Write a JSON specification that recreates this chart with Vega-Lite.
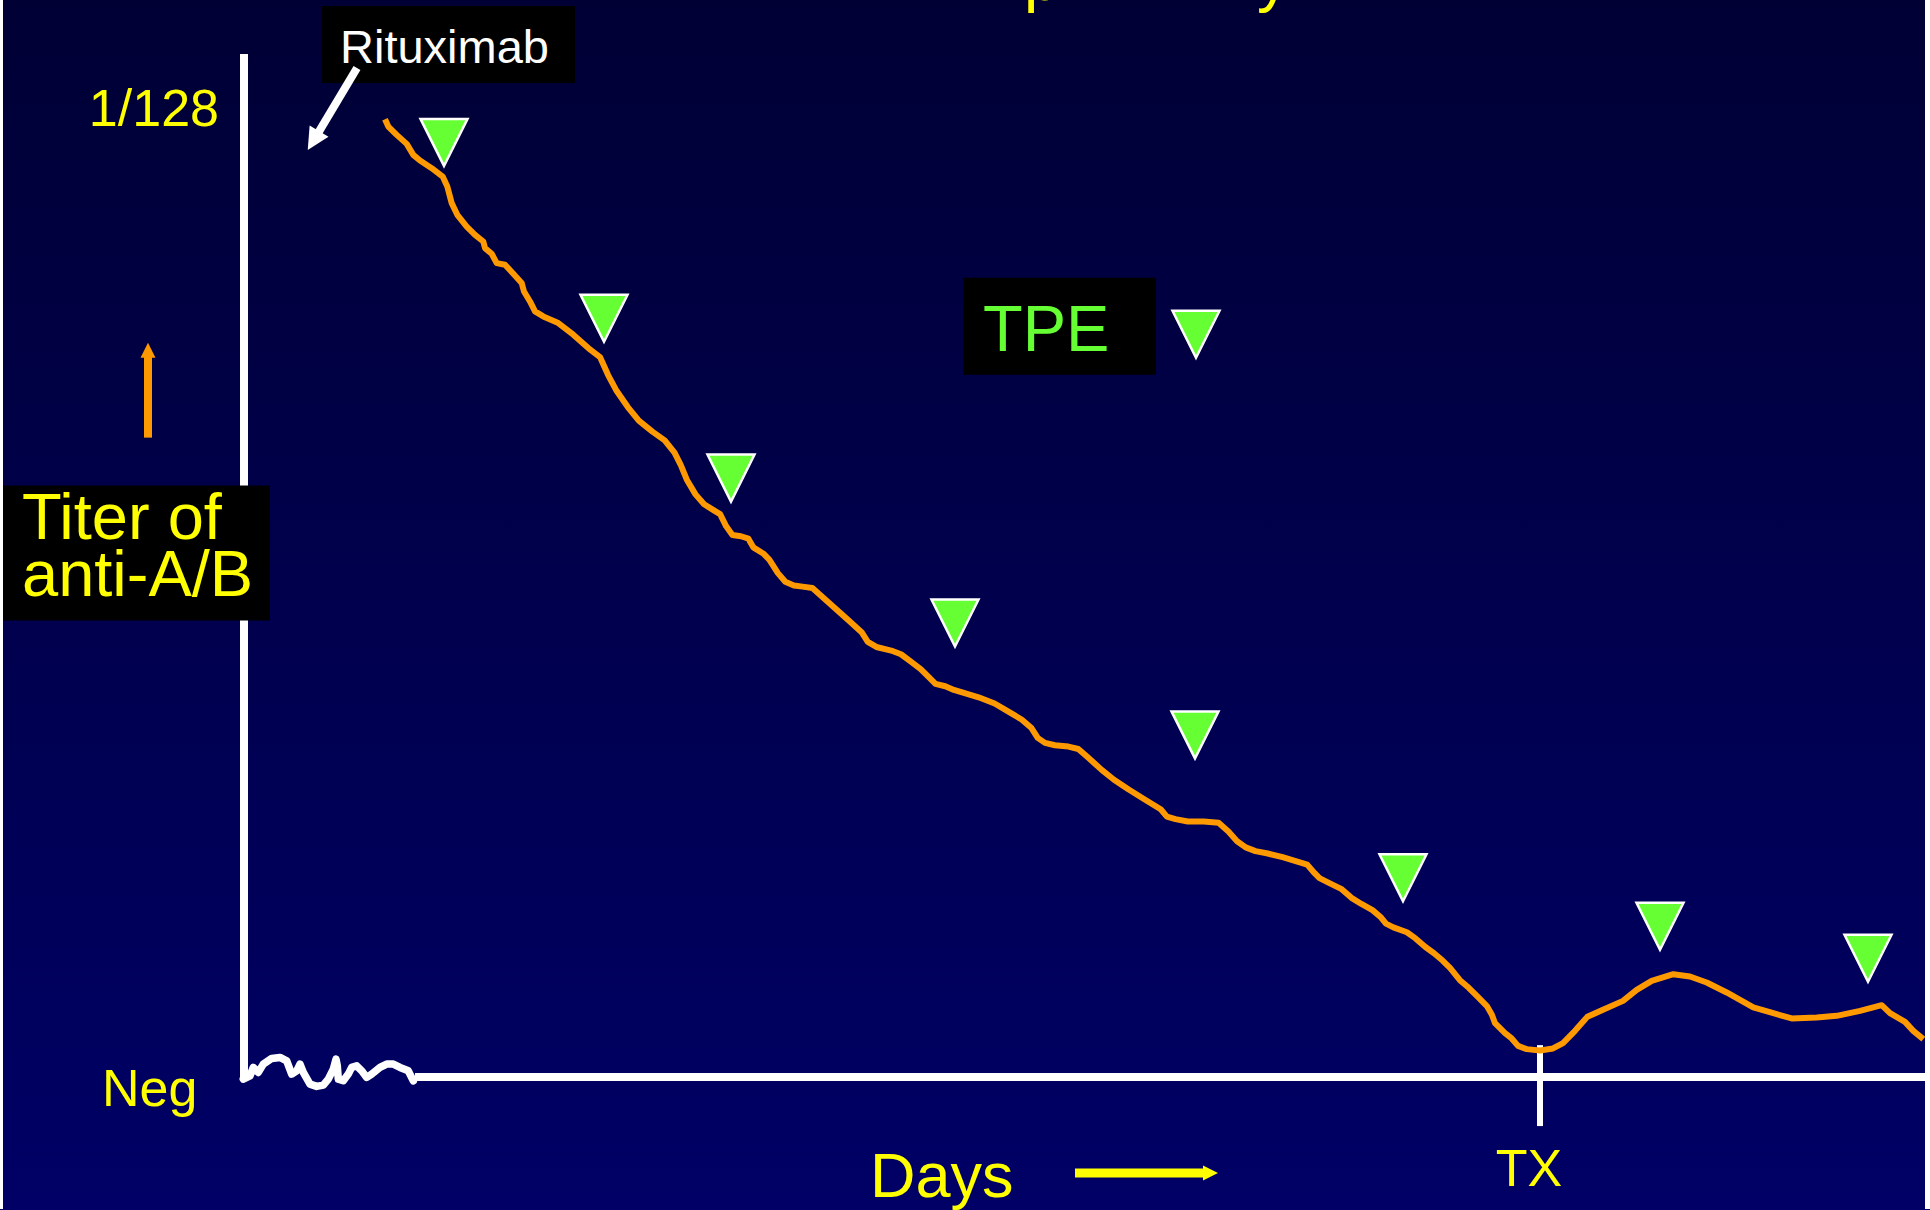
{
  "$schema": "https://vega.github.io/schema/vega-lite/v6.json",
  "width": 1930,
  "height": 1210,
  "autosize": {"type": "fit", "contains": "padding"},
  "padding": 0,
  "background": "#000066",
  "config": {"view": {"stroke": null}},
  "encoding": {
    "x": {"field": "x", "type": "quantitative", "scale": {"domain": [0, 193], "nice": false, "zero": false}, "axis": null},
    "y": {"field": "y", "type": "quantitative", "scale": {"domain": [0, 121], "reverse": true, "nice": false, "zero": false}, "axis": null}
  },
  "layer": [
    {
      "data": {"values": [{"x": 0, "x2": 193, "y": 0, "y2": 121}]},
      "mark": {"type": "rect", "fill": {"gradient": "linear", "x1": 0, "y1": 0, "x2": 0, "y2": 1, "stops": [{"offset": 0, "color": "#000035"}, {"offset": 1, "color": "#000066"}]}},
      "encoding": {"x2": {"field": "x2"}, "y2": {"field": "y2"}}
    },
    {
      "data": {"values": [{"x": 0, "x2": 0.3, "y": 0, "y2": 121}, {"x": 192.5, "x2": 193, "y": 0, "y2": 121}]},
      "mark": {"type": "rect", "fill": "#FFFFFF"},
      "encoding": {"x2": {"field": "x2"}, "y2": {"field": "y2"}}
    },
    {
      "data": {"values": [{"x": 24.4, "y": 5.4, "x2": 24.4, "y2": 108}, {"x": 41.5, "y": 107.8, "x2": 192.5, "y2": 107.8}]},
      "mark": {"type": "rule", "color": "#FFFFFF", "strokeWidth": 8, "strokeCap": "butt"},
      "encoding": {"x2": {"field": "x2"}, "y2": {"field": "y2"}}
    },
    {
      "data": {"values": [{"x": 154, "y": 104.6, "x2": 154, "y2": 112.7}]},
      "mark": {"type": "rule", "color": "#FFFFFF", "strokeWidth": 6, "strokeCap": "butt"},
      "encoding": {"x2": {"field": "x2"}, "y2": {"field": "y2"}}
    },
    {
      "data": {"values": [
        {"x": 32.2, "x2": 57.5, "y": 0.6, "y2": 8.3},
        {"x": 0.3, "x2": 27, "y": 48.6, "y2": 62.1},
        {"x": 96.3, "x2": 115.6, "y": 27.8, "y2": 37.5}
      ]},
      "mark": {"type": "rect", "fill": "#000000"},
      "encoding": {"x2": {"field": "x2"}, "y2": {"field": "y2"}}
    },
    {
      "data": {"values": [{"x": 102.4, "y": -0.05, "label": "p"}, {"x": 125.7, "y": -0.05, "label": "y"}]},
      "mark": {"type": "text", "clip": true, "font": "Liberation Sans", "fontSize": 64, "color": "#FFFF00", "align": "left", "baseline": "alphabetic"},
      "encoding": {"text": {"field": "label"}}
    },
    {
      "data": {"values": [{"x": 34.0, "y": 6.3, "label": "Rituximab"}]},
      "mark": {"type": "text", "font": "Liberation Sans", "fontSize": 47, "color": "#FFFFFF", "align": "left", "baseline": "alphabetic"},
      "encoding": {"text": {"field": "label"}}
    },
    {
      "data": {"values": [{"x": 21.9, "y": 12.6, "label": "1/128"}]},
      "mark": {"type": "text", "font": "Liberation Sans", "fontSize": 52, "color": "#FFFF00", "align": "right", "baseline": "alphabetic"},
      "encoding": {"text": {"field": "label"}}
    },
    {
      "data": {"values": [{"x": 10.2, "y": 110.7, "label": "Neg"}]},
      "mark": {"type": "text", "font": "Liberation Sans", "fontSize": 52, "color": "#FFFF00", "align": "left", "baseline": "alphabetic"},
      "encoding": {"text": {"field": "label"}}
    },
    {
      "data": {"values": [{"x": 2.2, "y": 53.9, "label": ["Titer of", "anti-A/B"]}]},
      "mark": {"type": "text", "font": "Liberation Sans", "fontSize": 65, "lineHeight": 57, "color": "#FFFF00", "align": "left", "baseline": "alphabetic"},
      "encoding": {"text": {"field": "label"}}
    },
    {
      "data": {"values": [{"x": 98.3, "y": 35.1, "label": "TPE"}]},
      "mark": {"type": "text", "font": "Liberation Sans", "fontSize": 65, "color": "#66FF33", "align": "left", "baseline": "alphabetic"},
      "encoding": {"text": {"field": "label"}}
    },
    {
      "data": {"values": [{"x": 87.0, "y": 119.8, "label": "Days"}]},
      "mark": {"type": "text", "font": "Liberation Sans", "fontSize": 63, "color": "#FFFF00", "align": "left", "baseline": "alphabetic"},
      "encoding": {"text": {"field": "label"}}
    },
    {
      "data": {"values": [{"x": 152.9, "y": 118.7, "label": "TX"}]},
      "mark": {"type": "text", "font": "Liberation Sans", "fontSize": 52, "color": "#FFFF00", "align": "center", "baseline": "alphabetic"},
      "encoding": {"text": {"field": "label"}}
    },
    {
      "data": {"values": [
        {"x": 24.33, "y": 108}, {"x": 25, "y": 107.67}, {"x": 25.33, "y": 106.83}, {"x": 25.83, "y": 107.33},
        {"x": 26.33, "y": 106.5}, {"x": 27.17, "y": 105.93}, {"x": 28, "y": 105.83}, {"x": 28.67, "y": 106.17},
        {"x": 29.17, "y": 107.5}, {"x": 29.67, "y": 107.17}, {"x": 30, "y": 106.5}, {"x": 30.33, "y": 107.33},
        {"x": 31, "y": 108.5}, {"x": 31.67, "y": 108.73}, {"x": 32.33, "y": 108.6}, {"x": 32.83, "y": 108},
        {"x": 33.33, "y": 107}, {"x": 33.6, "y": 106}, {"x": 33.73, "y": 106.67}, {"x": 33.83, "y": 108},
        {"x": 34.33, "y": 108.17}, {"x": 34.83, "y": 107.5}, {"x": 35.17, "y": 106.83}, {"x": 35.67, "y": 106.67},
        {"x": 36.17, "y": 107.17}, {"x": 36.67, "y": 107.83}, {"x": 37.17, "y": 107.5}, {"x": 38, "y": 106.83},
        {"x": 38.67, "y": 106.5}, {"x": 39.33, "y": 106.5}, {"x": 40, "y": 106.83}, {"x": 40.83, "y": 107.17},
        {"x": 41.33, "y": 108.17}
      ]},
      "mark": {"type": "line", "color": "#FFFFFF", "strokeWidth": 7.5, "strokeCap": "round", "strokeJoin": "round"}
    },
    {
      "data": {"values": [
        {"x": 38.5, "y": 11.93}, {"x": 38.83, "y": 12.67}, {"x": 39.67, "y": 13.5}, {"x": 40.67, "y": 14.4},
        {"x": 41.33, "y": 15.5}, {"x": 42, "y": 16.07}, {"x": 43.17, "y": 16.83}, {"x": 44.27, "y": 17.67},
        {"x": 44.73, "y": 18.67}, {"x": 45.17, "y": 20.33}, {"x": 45.73, "y": 21.5}, {"x": 46.67, "y": 22.67},
        {"x": 47.5, "y": 23.5}, {"x": 48.33, "y": 24.17}, {"x": 48.5, "y": 24.83}, {"x": 49.17, "y": 25.4},
        {"x": 49.67, "y": 26.33}, {"x": 50.5, "y": 26.5}, {"x": 51.33, "y": 27.4}, {"x": 52.17, "y": 28.33},
        {"x": 52.4, "y": 29.17}, {"x": 53, "y": 30.17}, {"x": 53.5, "y": 31.17}, {"x": 54.33, "y": 31.67},
        {"x": 55.83, "y": 32.33}, {"x": 57.33, "y": 33.5}, {"x": 58.83, "y": 34.83}, {"x": 60, "y": 35.73},
        {"x": 60.81, "y": 37.54}, {"x": 61.67, "y": 39.14}, {"x": 62.78, "y": 40.74}, {"x": 63.88, "y": 42.1},
        {"x": 65.24, "y": 43.2}, {"x": 66.47, "y": 44.07}, {"x": 67.45, "y": 45.3}, {"x": 68.07, "y": 46.53},
        {"x": 68.68, "y": 48.01}, {"x": 69.55, "y": 49.48}, {"x": 70.41, "y": 50.47}, {"x": 71.39, "y": 51.08},
        {"x": 72.01, "y": 51.45}, {"x": 72.62, "y": 52.68}, {"x": 73.24, "y": 53.54}, {"x": 74.1, "y": 53.67},
        {"x": 74.84, "y": 53.91}, {"x": 75.33, "y": 54.78}, {"x": 76.32, "y": 55.39}, {"x": 76.93, "y": 56.01},
        {"x": 77.79, "y": 57.36}, {"x": 78.53, "y": 58.22}, {"x": 79.39, "y": 58.59}, {"x": 80.25, "y": 58.71},
        {"x": 81.24, "y": 58.84}, {"x": 82.47, "y": 59.94}, {"x": 83.7, "y": 61.05}, {"x": 84.93, "y": 62.16},
        {"x": 86.16, "y": 63.27}, {"x": 86.78, "y": 64.25}, {"x": 87.64, "y": 64.75}, {"x": 89.12, "y": 65.11},
        {"x": 90.1, "y": 65.48}, {"x": 91.09, "y": 66.22}, {"x": 92.07, "y": 66.96}, {"x": 92.93, "y": 67.82},
        {"x": 93.55, "y": 68.44}, {"x": 94.53, "y": 68.68}, {"x": 95.39, "y": 69.05}, {"x": 96.63, "y": 69.42},
        {"x": 97.86, "y": 69.79}, {"x": 99.46, "y": 70.41}, {"x": 100.93, "y": 71.27}, {"x": 102.16, "y": 72.01},
        {"x": 103.15, "y": 72.87}, {"x": 103.77, "y": 73.85}, {"x": 104.5, "y": 74.35}, {"x": 105.49, "y": 74.59},
        {"x": 106.84, "y": 74.72}, {"x": 107.83, "y": 74.96}, {"x": 108.81, "y": 75.82}, {"x": 110.17, "y": 77.05},
        {"x": 111.4, "y": 78.04}, {"x": 112.87, "y": 79.02}, {"x": 114.47, "y": 80.01}, {"x": 116.07, "y": 80.99},
        {"x": 116.69, "y": 81.73}, {"x": 117.55, "y": 81.98}, {"x": 118.78, "y": 82.22}, {"x": 120.38, "y": 82.22},
        {"x": 121.86, "y": 82.35}, {"x": 122.84, "y": 83.21}, {"x": 123.71, "y": 84.19}, {"x": 124.57, "y": 84.81},
        {"x": 125.55, "y": 85.18}, {"x": 126.78, "y": 85.42}, {"x": 128.26, "y": 85.79}, {"x": 129.49, "y": 86.16},
        {"x": 130.72, "y": 86.53}, {"x": 131.46, "y": 87.39}, {"x": 131.95, "y": 87.89}, {"x": 132.94, "y": 88.38},
        {"x": 134.17, "y": 88.99}, {"x": 135.15, "y": 89.86}, {"x": 136.14, "y": 90.47}, {"x": 137.25, "y": 91.09},
        {"x": 138.11, "y": 91.83}, {"x": 138.6, "y": 92.44}, {"x": 139.34, "y": 92.81}, {"x": 140.69, "y": 93.3},
        {"x": 141.55, "y": 93.92}, {"x": 142.54, "y": 94.78}, {"x": 143.4, "y": 95.4}, {"x": 144.26, "y": 96.13},
        {"x": 145, "y": 96.87}, {"x": 145.99, "y": 98.1}, {"x": 146.85, "y": 98.84}, {"x": 147.71, "y": 99.7},
        {"x": 148.69, "y": 100.69}, {"x": 149.19, "y": 101.55}, {"x": 149.5, "y": 102.4}, {"x": 150.5, "y": 103.4},
        {"x": 151.17, "y": 103.93}, {"x": 151.8, "y": 104.67}, {"x": 152.67, "y": 105}, {"x": 154, "y": 105.13},
        {"x": 155.3, "y": 104.93}, {"x": 156.3, "y": 104.4}, {"x": 157.5, "y": 103.17}, {"x": 158.73, "y": 101.77},
        {"x": 160.3, "y": 101.07}, {"x": 162.3, "y": 100.17}, {"x": 163.67, "y": 99.07}, {"x": 165.17, "y": 98.17},
        {"x": 167.33, "y": 97.5}, {"x": 169, "y": 97.73}, {"x": 170.67, "y": 98.33}, {"x": 172.67, "y": 99.33},
        {"x": 175.33, "y": 100.83}, {"x": 177.33, "y": 101.4}, {"x": 179.17, "y": 101.93}, {"x": 181.67, "y": 101.83},
        {"x": 183.67, "y": 101.67}, {"x": 186, "y": 101.17}, {"x": 188.17, "y": 100.6}, {"x": 189, "y": 101.4},
        {"x": 190.5, "y": 102.27}, {"x": 191.33, "y": 103.17}, {"x": 192.33, "y": 104}
      ]},
      "mark": {"type": "line", "color": "#FF9900", "strokeWidth": 6, "strokeCap": "butt", "strokeJoin": "round"}
    },
    {
      "data": {"values": [
        {"x": 44.4, "y": 14.25}, {"x": 60.4, "y": 31.85}, {"x": 73.1, "y": 47.85}, {"x": 95.5, "y": 62.35},
        {"x": 119.5, "y": 73.55}, {"x": 140.3, "y": 87.85}, {"x": 166, "y": 92.7}, {"x": 186.8, "y": 95.9},
        {"x": 119.6, "y": 33.45}
      ]},
      "mark": {"type": "point", "shape": "M-1,-1L1,-1L0,1Z", "size": 2209, "filled": true, "fill": "#66FF33", "fillOpacity": 1, "stroke": "#FFFFFF", "strokeWidth": 2.5, "opacity": 1}
    },
    {
      "data": {"values": [{"x": 35.7, "y": 6.8, "x2": 31.7, "y2": 13.5}]},
      "mark": {"type": "rule", "color": "#FFFFFF", "strokeWidth": 8, "strokeCap": "butt"},
      "encoding": {"x2": {"field": "x2"}, "y2": {"field": "y2"}}
    },
    {
      "data": {"values": [{"x": 31.34, "y": 14.06}]},
      "mark": {"type": "point", "shape": "M0,-1L1,1L-1,1Z", "size": 484, "angle": 211, "filled": true, "fill": "#FFFFFF", "strokeWidth": 0, "opacity": 1}
    },
    {
      "data": {"values": [{"x": 14.8, "y": 43.8, "x2": 14.8, "y2": 35.6}]},
      "mark": {"type": "rule", "color": "#FF9900", "strokeWidth": 8, "strokeCap": "butt"},
      "encoding": {"x2": {"field": "x2"}, "y2": {"field": "y2"}}
    },
    {
      "data": {"values": [{"x": 14.8, "y": 35.05}]},
      "mark": {"type": "point", "shape": "M0,-1L1,1L-1,1Z", "size": 225, "angle": 0, "filled": true, "fill": "#FF9900", "strokeWidth": 0, "opacity": 1}
    },
    {
      "data": {"values": [{"x": 107.5, "y": 117.4, "x2": 120.5, "y2": 117.4}]},
      "mark": {"type": "rule", "color": "#FFFF00", "strokeWidth": 9, "strokeCap": "butt"},
      "encoding": {"x2": {"field": "x2"}, "y2": {"field": "y2"}}
    },
    {
      "data": {"values": [{"x": 121.05, "y": 117.4}]},
      "mark": {"type": "point", "shape": "M0,-1L1,1L-1,1Z", "size": 225, "angle": 90, "filled": true, "fill": "#FFFF00", "strokeWidth": 0, "opacity": 1}
    }
  ]
}
